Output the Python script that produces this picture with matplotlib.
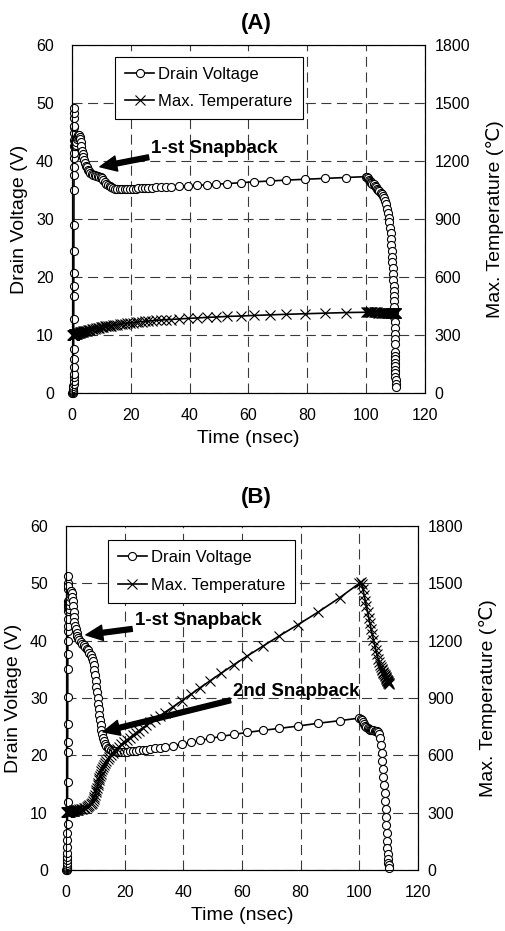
import matplotlib.pyplot as plt
from matplotlib.lines import Line2D

plt.rcParams['font.family'] = ['Liberation Sans', 'DejaVu Sans']

# ---- panel (A): simulation output, shared time steps ----
time_a = [0.00, 0.30, 0.40, 0.44, 0.46, 0.48, 0.50, 0.51, 0.52, 0.53, 0.54, 0.55,
          0.56, 0.57, 0.58, 0.59, 0.60, 0.61, 0.62, 0.63, 0.64, 0.65, 0.66, 0.67,
          0.68, 0.69, 0.70, 0.71, 0.72, 0.73, 0.74, 0.76,
          0.80, 0.85, 0.90, 1.0, 1.2, 1.4, 1.6, 1.8, 2.0, 2.2, 2.4, 2.6, 2.8, 3.0,
          3.2, 3.4, 3.6, 3.8, 4.1, 4.4, 4.7, 5.0, 5.4, 5.8, 6.2, 6.7, 7.2, 7.7,
          8.2, 8.7, 9.2, 9.7, 10.2, 10.7, 11.2, 11.7, 12.2, 12.8, 13.4, 14.0, 14.7,
          15.4, 16.2, 17.0, 17.9, 18.8, 19.7, 20.6, 21.6, 22.6, 23.7, 24.8, 26.0,
          27.3, 28.7, 30.2, 31.8, 33.5, 36.3, 39.6, 42.6, 45.8, 49.1, 52.8, 57.4,
          61.9, 67.3, 72.9, 79.3, 86.1, 93.3, 100.0,
          100.3, 100.6, 100.9, 101.2, 101.5, 101.8, 102.1, 102.5, 102.9, 103.3,
          103.7, 104.1, 104.5, 104.9, 105.3, 105.7, 106.1, 106.5, 106.8, 107.1,
          107.4, 107.7, 107.9, 108.1, 108.3, 108.5, 108.6, 108.7, 108.8, 108.9,
          109.0, 109.1, 109.2, 109.3, 109.35, 109.4, 109.45, 109.5, 109.55, 109.6,
          109.65, 109.7, 109.72, 109.75, 109.8, 109.82, 109.84, 109.86, 109.88,
          109.9, 109.92, 109.94, 109.96, 109.98, 110.0, 110.02]
volt_a = [0.0, 0.05, 0.15, 0.3, 0.5, 0.8, 1.2, 1.6, 2.1, 2.7, 3.3, 4.4,
          5.8, 7.5, 12.7, 16.7, 18.4, 20.7, 24.5, 29.0, 35.0, 37.6, 39.0, 40.5,
          41.3, 42.5, 43.6, 44.8, 45.9, 47.4, 48.2, 49.1,
          46.0, 43.5, 42.6, 42.5, 42.8, 43.3, 43.8, 44.1, 44.3, 44.4, 44.4, 44.2, 43.8, 43.2,
          42.5, 41.8, 41.2, 40.7, 40.1, 39.6, 39.2, 38.9, 38.5, 38.2, 38.0, 37.8, 37.6, 37.5,
          37.4, 37.35, 37.3, 37.2, 37.0, 36.7, 36.4, 36.1, 35.9, 35.7, 35.5, 35.35, 35.25,
          35.2, 35.15, 35.15, 35.15, 35.2, 35.2, 35.25, 35.25, 35.3, 35.3, 35.35, 35.4,
          35.4, 35.45, 35.5, 35.5, 35.55, 35.6, 35.7, 35.8, 35.9, 36.0, 36.1, 36.25,
          36.4, 36.55, 36.7, 36.85, 37.0, 37.15, 37.3,
          37.2, 37.0, 36.8, 36.6, 36.4, 36.25, 36.1, 35.95, 35.7, 35.5,
          35.25, 35.0, 34.8, 34.55, 34.25, 33.95, 33.6, 33.1, 32.5, 31.8,
          31.0, 30.2, 29.4, 28.5, 27.6, 26.6, 25.5, 24.5, 23.5, 22.5,
          21.5, 20.5, 19.5, 18.5, 17.6, 16.7, 15.8, 14.9, 14.0, 13.1,
          12.2, 11.2, 10.2, 9.3, 8.5, 7.0, 6.4, 5.8, 5.2,
          4.6, 4.0, 3.4, 2.8, 2.2, 1.6, 1.0]
temp_a = [302, 302, 302, 302, 302, 302, 302, 302, 302, 302, 302, 302,
          302, 302, 302, 302, 302, 302, 302, 302, 302, 302, 302, 302,
          302, 302, 302, 302, 302, 302, 302, 303,
          303, 303, 303, 304, 305, 306, 307, 308, 309, 310, 311, 312, 313, 314,
          315, 316, 317, 318, 319, 320, 321, 322, 324, 325, 327, 329, 331, 333,
          335, 336, 338, 339, 341, 342, 344, 345, 346, 348, 349, 351, 352,
          354, 356, 357, 359, 361, 363, 364, 366, 368, 369, 371, 372,
          374, 376, 377, 379, 380, 383, 386, 388, 391, 393, 396, 398,
          401, 404, 407, 410, 413, 416, 418,
          418, 418, 418, 418, 418, 418, 417, 417, 417, 417,
          417, 416, 416, 416, 416, 415, 415, 415, 415, 415,
          414, 414, 414, 414, 414, 414, 413, 413, 413, 413,
          413, 413, 413, 413, 413, 413, 413, 413, 413, 412,
          412, 412, 412, 412, 412, 412, 412, 412, 412,
          412, 412, 412, 412, 412, 412, 412]

# ---- panel (B) ----
time_b = [0.00, 0.25, 0.35, 0.40, 0.42, 0.44, 0.45, 0.46, 0.47, 0.48, 0.49, 0.50,
          0.51, 0.52, 0.53, 0.54, 0.55, 0.56, 0.57, 0.58, 0.59, 0.60, 0.61, 0.62,
          0.63, 0.64, 0.65, 0.66, 0.67, 0.68, 0.70,
          0.75, 0.80, 0.85, 0.90, 1.0, 1.1, 1.25, 1.4, 1.55, 1.7, 1.85, 2.0, 2.15,
          2.3, 2.45, 2.6, 2.75, 2.9, 3.1, 3.3, 3.6, 3.9, 4.2, 4.6, 5.0, 5.5, 6.0,
          6.5, 7.0, 7.5, 8.0, 8.4, 8.8, 9.1, 9.4, 9.7, 9.95, 10.2, 10.4, 10.6,
          10.8, 11.0, 11.2, 11.4, 11.6, 11.8, 12.05, 12.3, 12.6, 12.9, 13.3, 13.7,
          14.2, 14.7, 15.3, 15.9, 16.6, 17.3, 18.1, 18.9, 19.8, 20.7, 21.7, 22.7,
          23.8, 24.9, 26.1, 27.4, 28.8, 30.3, 31.9, 33.6, 36.4, 39.5, 42.6, 45.8,
          49.1, 52.9, 57.2, 61.8, 67.0, 72.7, 79.0, 86.0, 93.3, 100.0,
          100.4, 100.8, 101.2, 101.6, 102.0, 102.4, 102.8, 103.2, 103.6, 104.0,
          104.4, 104.8, 105.2, 105.6, 106.0, 106.4, 106.8, 107.1, 107.4, 107.6,
          107.8, 108.0, 108.2, 108.4, 108.6, 108.8, 108.95, 109.1, 109.25, 109.4,
          109.5, 109.6, 109.7, 109.8, 109.9, 110.0, 110.1]
volt_b = [0.0, 0.05, 0.15, 0.3, 0.5, 0.8, 1.2, 1.7, 2.3, 3.0, 4.0, 5.2,
          6.5, 8.1, 11.9, 15.4, 20.6, 22.3, 25.5, 30.1, 35.1, 37.7, 40.0, 41.7,
          42.6, 43.8, 45.2, 46.4, 49.0, 50.1, 51.3,
          49.5, 47.0, 45.8, 45.6, 46.2, 46.9, 47.6, 48.1, 48.4, 48.6, 48.6, 48.3, 47.7,
          46.9, 46.0, 45.0, 44.1, 43.3, 42.6, 42.0, 41.4, 40.9, 40.5, 40.1, 39.8, 39.5, 39.2,
          38.9, 38.6, 38.3, 37.9, 37.5, 37.0, 36.4, 35.7, 34.9, 34.0, 33.0, 32.0, 31.0,
          30.0, 29.0, 28.0, 27.0, 26.1, 25.3, 24.5, 23.8, 23.1, 22.5, 22.0, 21.6,
          21.3, 21.05, 20.9, 20.75, 20.7, 20.65, 20.6, 20.6, 20.6, 20.65, 20.7, 20.75,
          20.8, 20.85, 20.9, 21.0, 21.1, 21.2, 21.3, 21.45, 21.65, 21.95, 22.25, 22.6,
          22.95, 23.3, 23.65, 24.0, 24.35, 24.7, 25.1, 25.6, 26.05, 26.5,
          26.4, 26.1, 25.8, 25.5, 25.2, 24.95, 24.75, 24.6, 24.5, 24.45,
          24.4, 24.35, 24.3, 24.25, 24.2, 24.1, 23.8, 23.0, 21.8, 20.4,
          19.0, 17.6, 16.2, 14.8, 13.4, 12.0, 10.6, 9.2, 7.8, 6.4,
          5.0, 3.8, 2.8, 2.0, 1.3, 0.8, 0.4]
temp_b = [305, 305, 305, 305, 305, 305, 305, 305, 305, 305, 305, 305,
          305, 305, 305, 305, 305, 305, 305, 305, 305, 305, 305, 305,
          305, 305, 305, 305, 305, 305, 305,
          305, 305, 305, 305, 306, 306, 306, 307, 307, 308, 308, 309, 309,
          310, 310, 311, 311, 312, 312, 313, 314, 315, 316, 317, 319, 321, 323,
          326, 329, 333, 338, 344, 352, 360, 370, 382, 394, 407, 418, 430,
          443, 456, 469, 482, 494, 505, 517, 528, 539, 549, 560, 570,
          581, 591, 602, 612, 623, 634, 646, 657, 669, 680, 692, 704,
          717, 729, 743, 757, 772, 789, 806, 824, 853, 886, 920, 955,
          990, 1030, 1074, 1120, 1170, 1225, 1283, 1350, 1425, 1500,
          1505, 1495, 1470, 1440, 1410, 1380, 1350, 1320, 1290, 1262,
          1234, 1206, 1178, 1152, 1128, 1106, 1086, 1072, 1060, 1052,
          1045, 1038, 1031, 1025, 1019, 1013, 1008, 1004, 1000, 996,
          993, 990, 987, 984, 981, 978, 975]

FS_TICK = 11.5
FS_LABEL = 14


def draw_panel(ax, t, volt, temp, title, title_y, leg_anchor, notes):
    ax2 = ax.twinx()
    ax.plot(t, volt, color='black', lw=1.2, marker='o', ms=5.8, mfc='white',
            mec='black', mew=0.8, clip_on=False, zorder=3)
    ax2.plot(t, temp, color='black', lw=1.2, marker='x', ms=7, mew=0.8,
             clip_on=False, zorder=3)

    ax.set_xlim(0, 120)
    ax.set_ylim(0, 60)
    ax2.set_ylim(0, 1800)
    ax.set_xticks(range(0, 121, 20))
    ax.set_yticks(range(0, 61, 10))
    ax2.set_yticks(range(0, 1801, 300))
    ax.tick_params(axis='y', length=0, pad=13, labelsize=FS_TICK)
    ax.tick_params(axis='x', length=0, pad=11, labelsize=FS_TICK)
    ax2.tick_params(axis='y', length=0, pad=7, labelsize=FS_TICK)
    ax.grid(True, color='#3a3a3a', lw=0.8, linestyle=(0, (9, 5)))
    for a in (ax, ax2):
        for s in a.spines.values():
            s.set_linewidth(0.8)
            s.set_color('black')

    ax.set_xlabel('Time (nsec)', fontsize=FS_LABEL, labelpad=5)
    ax.set_ylabel('Drain Voltage (V)', fontsize=FS_LABEL, labelpad=6)
    ax2.set_ylabel('Max. Temperature (℃)', fontsize=FS_LABEL, labelpad=11)
    fig.text(0.507, title_y, title, fontsize=16, fontweight='bold',
             ha='center', va='center')

    handles = [Line2D([], [], color='black', lw=1.2, marker='o', ms=5.8,
                      mfc='white', mec='black', mew=0.8),
               Line2D([], [], color='black', lw=1.2, marker='x', ms=7, mew=0.8)]
    leg = ax2.legend(handles, ['Drain Voltage', 'Max. Temperature'],
                     loc='upper left', bbox_to_anchor=leg_anchor, fontsize=12,
                     frameon=True, fancybox=False, framealpha=1,
                     edgecolor='black', borderaxespad=0, borderpad=0.6,
                     handlelength=1.75, handletextpad=0.25, labelspacing=0.75)
    leg.get_frame().set_linewidth(0.8)
    leg.set_zorder(10)

    for label, head, text_pos in notes:
        ax2.annotate(label, xy=head, xytext=text_pos, xycoords=ax.transData,
                     textcoords=ax.transData, fontsize=13.5, fontweight='bold',
                     ha='left', va='center', zorder=9,
                     arrowprops=dict(facecolor='black', edgecolor='black',
                                     width=3.5, headwidth=11, headlength=12,
                                     shrink=0))
    return ax2


fig = plt.figure(figsize=(5.06, 9.31), dpi=100)
ax_a = fig.add_axes([0.1423, 0.5779, 0.6976, 0.3738])
ax_b = fig.add_axes([0.1304, 0.0655, 0.6957, 0.3695])

draw_panel(ax_a, time_a, volt_a, temp_a, '(A)', 1 - 23 / 931, (0.122, 0.966),
           [('1-st Snapback', (9.5, 39.0), (27.0, 42.2))])
draw_panel(ax_b, time_b, volt_b, temp_b, '(B)', 1 - 497 / 931, (0.119, 0.959),
           [('1-st Snapback', (6.8, 41.0), (23.5, 43.6)),
            ('2nd Snapback', (12.6, 24.1), (57.0, 31.2))])

fig.savefig('out.png', dpi=100)
